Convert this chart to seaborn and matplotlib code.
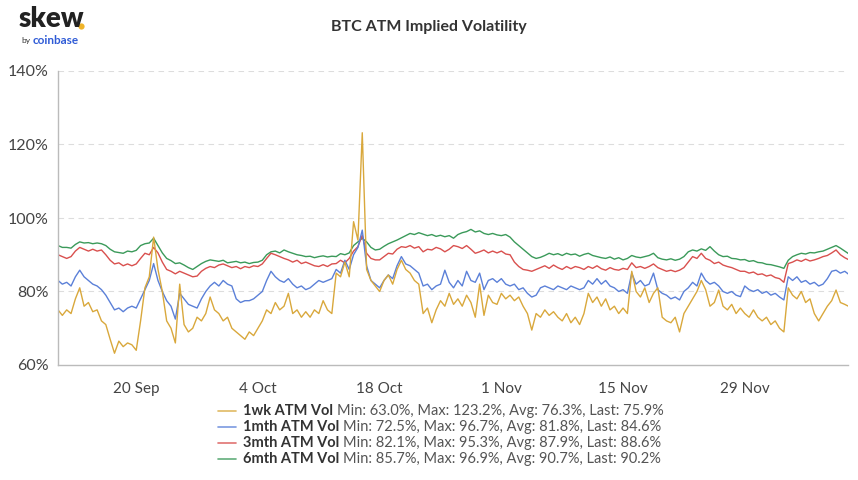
import numpy as np
import pandas as pd
import matplotlib
matplotlib.use("Agg")
import matplotlib.pyplot as plt
import matplotlib.dates as mdates
from matplotlib.lines import Line2D
import seaborn as sns

# 12-hourly samples starting 11 Sep
start_date = "2021-09-11 00:00"

one_wk = [75, 73.5, 75, 74, 78, 81, 76, 77, 74.5, 75, 72, 71, 67, 63.2, 66.5, 65, 66, 65.5, 64, 72,
          81, 84, 94.8, 86, 80, 72, 70, 66, 82, 71, 69, 70, 73, 72, 74, 78.5, 75, 74, 72, 73,
          70, 69, 68, 67, 69, 68, 70, 72, 75, 74, 77, 75, 76, 79.5, 74, 75, 73, 74.5, 73, 75,
          74, 77.5, 75, 74, 85, 84, 88, 84, 99, 94, 123.2, 86, 83, 81.5, 80, 83, 84.5, 82, 86, 88.5,
          86, 85, 83, 82, 74, 75.5, 71.5, 75, 77.5, 76, 79.5, 76.5, 78, 76, 79, 77, 73, 82, 73.5, 79,
          77, 76.5, 79.5, 78, 79, 77.5, 78.5, 76, 74, 69.5, 74, 73, 75, 73.5, 74.5, 73, 72, 74, 71.5, 73,
          71, 74, 79.5, 77, 78.5, 76, 78, 75, 76, 74, 75.5, 74, 85.5, 80, 78.5, 81, 77, 79.5, 81, 73,
          72, 71.5, 73, 69, 74, 76, 78, 80, 83, 80.5, 76, 77, 80.4, 76, 75, 76.5, 74, 75.5, 74, 73,
          75, 73, 72, 73, 71, 72, 70, 69, 81, 79, 78, 80, 77, 78, 74, 72, 74, 76, 77.5, 80.4,
          77, 76.5, 75.9]

one_mth = [83, 82, 82.5, 81.5, 84, 85.8, 84, 83, 82, 81.5, 80.5, 79, 77, 75, 75.5, 74.5, 75.5, 76, 75.5, 78,
           80.5, 83, 87.6, 83, 80, 77.5, 76, 72.5, 79.5, 78, 76.5, 76, 75.5, 78, 80, 81.5, 82.5, 81.5, 83, 82,
           81.5, 78, 77, 77.5, 77.5, 78, 79, 80, 83, 85.5, 84, 83, 82.5, 83.5, 82, 81, 81.5, 80.5, 81, 82,
           83, 82.5, 83, 83.5, 86, 85, 88.5, 86, 90, 92, 96.7, 87, 83, 82, 81, 83, 84.5, 83.5, 87, 89.5,
           87.5, 87, 86, 85, 81.5, 82, 80.5, 81.5, 82, 85.8, 82.5, 81, 83, 81.5, 85.5, 83, 82.5, 85, 80.5, 83,
           83.5, 82.5, 83.5, 82, 81.5, 82, 80.5, 81, 79.5, 78.5, 79, 81, 81.5, 81, 80.5, 81.5, 81, 80.5, 81.5, 81,
           80.5, 81, 83, 82, 83.5, 82, 83, 81.5, 81, 80, 80.5, 79.5, 85, 82, 83, 81.5, 82, 85, 80.5, 79.5,
           79, 78, 78.5, 77.7, 80, 81, 82.5, 81.5, 85, 83, 82, 82.5, 81.5, 80, 79.5, 80, 79, 78.6, 81.5, 80.5,
           80, 80.5, 79.5, 80, 79, 79.5, 78.5, 77.7, 84, 83, 84, 82.5, 83, 82, 82.5, 81.5, 82, 83.5, 85.5, 85.8,
           85, 85.5, 84.6]

three_mth = [90, 89.5, 89, 89.5, 91, 92, 91.5, 91, 91.5, 91, 91.3, 90, 88.5, 87.5, 87.8, 87, 87.5, 87, 87.5, 89,
             90.4, 90, 92, 90.5, 88, 86, 85.5, 84.8, 85.5, 85, 84.5, 84, 84.2, 85.5, 86.3, 86.8, 86.5, 87.2, 87.5, 87,
             86.5, 86.8, 86.2, 86.8, 86.5, 87, 86.8, 87.5, 89, 90.4, 90, 89.5, 89, 88.6, 88, 88.5, 87.6, 88, 87.5, 87,
             86.8, 87.3, 86.8, 87.5, 87.6, 88.5, 87.8, 89, 91, 92.2, 95.3, 90.4, 89, 88.6, 88.6, 89.5, 90.4, 90.2, 91.5, 92.2,
             92, 92.5, 91.8, 92.2, 90.8, 91.5, 91.3, 92, 91.6, 90.8, 91.5, 92.5, 92.2, 91.7, 92.5, 91.5, 90.4, 90.8, 91.3, 90.5,
             91, 90.5, 91, 90.2, 90, 88, 86.8, 86, 85.8, 85.5, 86, 86.5, 87, 86.3, 87.2, 86.5, 86, 86.8, 86.2, 86.8,
             86.5, 86, 86.8, 86.3, 87, 86.2, 85.8, 86.5, 86, 85.8, 86.3, 86, 87.8, 86.5, 86.8, 86.3, 86.8, 87.5, 86.5, 86,
             85.5, 85.8, 85.4, 85.8, 86.5, 88, 89.5, 89, 90.4, 89, 88.5, 87.6, 88, 87.2, 86.8, 86.5, 86, 85.5, 85.5, 85,
             85.3, 84.6, 84.8, 84.2, 84.5, 83.8, 83.5, 82.5, 87.6, 88, 88.6, 88.2, 88.8, 88.3, 88.6, 89, 89.5, 89.8, 90.5, 91.3,
             90, 89.2, 88.6]

six_mth = [92.5, 92, 92, 91.8, 92.8, 93.5, 93.2, 93.3, 93, 93.2, 93, 92.5, 91.5, 90.8, 90.6, 90.4, 91, 90.8, 91.2, 92.5,
           93, 93.2, 94.5, 92.5, 90.5, 89, 88.4, 87.6, 87.8, 87.2, 86.5, 86, 86.8, 87.6, 88.2, 88.6, 88.4, 88.2, 88.5, 87.8,
           88, 88.2, 87.8, 88, 87.6, 87.9, 88, 88.5, 90, 90.8, 91, 90.5, 91.3, 90.8, 90.4, 90, 89.8, 89.5, 89.6, 89.2,
           89.5, 89.7, 89.4, 89.6, 89.5, 90.3, 90, 90.5, 92.5, 93.5, 94.5, 93.5, 92, 91.3, 91.5, 92.3, 93, 93.5, 94, 94.6,
           95.2, 95.8, 95.5, 96, 95.6, 95.2, 95.5, 95, 95.3, 94.9, 95.2, 94.5, 95.5, 96, 96.3, 96.9, 96.2, 96.5, 95.8, 95.5,
           95.8, 95.4, 95.2, 95.5, 94.8, 93.5, 92.5, 91.5, 90.5, 89.5, 89, 89.3, 89.8, 90.4, 90, 90.3, 89.8, 90.4, 90, 90.2,
           89.6, 90.1, 90.4, 89.8, 89.5, 89.2, 89, 89.4, 88.8, 89.2, 88.6, 89, 89.8, 89.4, 89.2, 89.5, 89.8, 90.4, 89.2, 88.8,
           88.6, 88.9, 88.5, 88.8, 89.5, 90.8, 91.3, 91, 91.6, 91.2, 92.2, 91, 90, 89.5, 89.6, 89, 88.9, 88.6, 88.7, 88.2,
           88.4, 87.9, 87.8, 87.4, 87.3, 87, 86.7, 86.3, 88.5, 89.5, 90, 90.4, 90.2, 90.6, 90.5, 90.8, 91, 91.5, 92, 92.5,
           91.8, 91, 90.2]

series_names = ["1wk ATM Vol", "1mth ATM Vol", "3mth ATM Vol", "6mth ATM Vol"]
series_stats = ["Min: 63.0%, Max: 123.2%, Avg: 76.3%, Last: 75.9%",
                "Min: 72.5%, Max: 96.7%, Avg: 81.8%, Last: 84.6%",
                "Min: 82.1%, Max: 95.3%, Avg: 87.9%, Last: 88.6%",
                "Min: 85.7%, Max: 96.9%, Avg: 90.7%, Last: 90.2%"]
colors = ["#d9a83c", "#5b80d8", "#d9504e", "#3b9a5a"]

tick_dates = ["2021-09-20", "2021-10-04", "2021-10-18", "2021-11-01", "2021-11-15", "2021-11-29"]
tick_labels = ["20 Sep", "4 Oct", "18 Oct", "1 Nov", "15 Nov", "29 Nov"]
y_ticks = [60, 80, 100, 120, 140]

all_series = [one_wk, one_mth, three_mth, six_mth]
assert all(len(s) == len(one_wk) for s in all_series), [len(s) for s in all_series]
dates = pd.date_range(start_date, periods=len(one_wk), freq="12h")

frames = []
for name, vals in zip(series_names, all_series):
    frames.append(pd.DataFrame({"date": dates, "vol": vals, "series": name}))
df = pd.concat(frames, ignore_index=True)

sns.set_theme(style="white")
plt.rcParams["font.family"] = ["Lato", "DejaVu Sans"]

W, H = 858, 480
fig = plt.figure(figsize=(W / 100, H / 100), dpi=100)
ax = fig.add_axes([58 / W, 1 - 365 / H, (848 - 58) / W, (365 - 71) / H])

sns.lineplot(data=df, x="date", y="vol", hue="series", hue_order=series_names[::-1],
             palette=dict(zip(series_names, colors)), linewidth=1.0, legend=False, ax=ax)

ax.set_xlim(pd.Timestamp(start_date), pd.Timestamp("2021-12-10 21:00"))
ax.set_ylim(60, 140)
ax.set_yticks(y_ticks)
ax.set_yticklabels([f"{v}%" for v in y_ticks], fontsize=11.5, color="#444444")
ax.set_xticks([mdates.date2num(pd.Timestamp(d)) for d in tick_dates])
ax.set_xticklabels(tick_labels, fontsize=11, color="#444444")
ax.set_xlabel("")
ax.set_ylabel("")
for v in y_ticks[1:]:
    ax.axhline(v, color="#dddddd", lw=0.8, ls=(0, (5, 4)), zorder=0)
for s in ["top", "right"]:
    ax.spines[s].set_visible(False)
for s in ["left", "bottom"]:
    ax.spines[s].set_color("#bbbbbb")
    ax.spines[s].set_linewidth(1.0)
ax.tick_params(axis="x", length=4, color="#888888", pad=8)
ax.tick_params(axis="y", length=4, color="#bbbbbb", pad=3)

# title and logo
fig.text(0.5, 1 - 27 / H, "BTC ATM Implied Volatility", ha="center", va="center",
         fontsize=11.5, fontweight="bold", color="#333333")
fig.text(19 / W, 1 - 19 / H, "skew", ha="left", va="center", fontsize=20,
         fontweight="heavy", color="#222222")
fig.add_artist(Line2D([81 / W], [1 - 26 / H], marker="o", markersize=4.5, color="#f0b429",
                      markeredgewidth=0, transform=fig.transFigure))
fig.text(21 / W, 1 - 41 / H, "by", ha="left", va="center", fontsize=6, color="#333333")
fig.text(33 / W, 1 - 40 / H, "coinbase", ha="left", va="center", fontsize=8.5,
         fontweight="bold", color="#2f5bd6")

# legend with bold names and grey stats
renderer = fig.canvas.get_renderer()
for i, (name, stat, col) in enumerate(zip(series_names, series_stats, colors)):
    y = 1 - (411 + 16 * i) / H
    fig.add_artist(Line2D([218 / W, 236 / W], [y, y], color=col, lw=1.2, alpha=0.8,
                          transform=fig.transFigure))
    t = fig.text(243 / W, y, name, ha="left", va="center", fontsize=10.5,
                 fontweight="bold", color="#333333")
    bb = t.get_window_extent(renderer=renderer)
    fig.text((bb.x1 + 4) / W, y, stat, ha="left", va="center", fontsize=10.5, color="#555555")

fig.savefig("out.png", dpi=100)
